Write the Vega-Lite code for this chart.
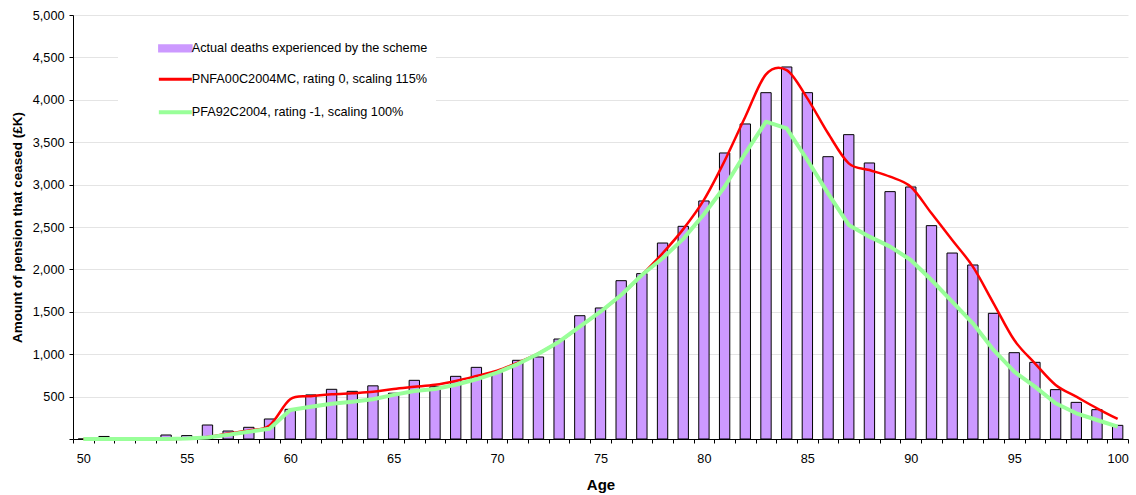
{
  "$schema": "https://vega.github.io/schema/vega-lite/v6.json",
  "width": 1055,
  "height": 424,
  "autosize": {"type": "none"},
  "padding": {"left": 73, "top": 15, "right": 8, "bottom": 56},
  "background": "white",
  "config": {
    "font": "Liberation Sans",
    "view": {"stroke": null},
    "axis": {"labelFont": "Liberation Sans", "titleFont": "Liberation Sans", "labelColor": "#000", "titleColor": "#000"}
  },
  "datasets": {
    "bars": [
      {"age": 50, "amount": 0, "series": "Actual deaths experienced by the scheme"},
      {"age": 51, "amount": 30, "series": "Actual deaths experienced by the scheme"},
      {"age": 52, "amount": 0, "series": "Actual deaths experienced by the scheme"},
      {"age": 53, "amount": 0, "series": "Actual deaths experienced by the scheme"},
      {"age": 54, "amount": 47, "series": "Actual deaths experienced by the scheme"},
      {"age": 55, "amount": 40, "series": "Actual deaths experienced by the scheme"},
      {"age": 56, "amount": 165, "series": "Actual deaths experienced by the scheme"},
      {"age": 57, "amount": 94, "series": "Actual deaths experienced by the scheme"},
      {"age": 58, "amount": 138, "series": "Actual deaths experienced by the scheme"},
      {"age": 59, "amount": 236, "series": "Actual deaths experienced by the scheme"},
      {"age": 60, "amount": 350, "series": "Actual deaths experienced by the scheme"},
      {"age": 61, "amount": 520, "series": "Actual deaths experienced by the scheme"},
      {"age": 62, "amount": 586, "series": "Actual deaths experienced by the scheme"},
      {"age": 63, "amount": 562, "series": "Actual deaths experienced by the scheme"},
      {"age": 64, "amount": 627, "series": "Actual deaths experienced by the scheme"},
      {"age": 65, "amount": 540, "series": "Actual deaths experienced by the scheme"},
      {"age": 66, "amount": 692, "series": "Actual deaths experienced by the scheme"},
      {"age": 67, "amount": 617, "series": "Actual deaths experienced by the scheme"},
      {"age": 68, "amount": 739, "series": "Actual deaths experienced by the scheme"},
      {"age": 69, "amount": 845, "series": "Actual deaths experienced by the scheme"},
      {"age": 70, "amount": 785, "series": "Actual deaths experienced by the scheme"},
      {"age": 71, "amount": 928, "series": "Actual deaths experienced by the scheme"},
      {"age": 72, "amount": 967, "series": "Actual deaths experienced by the scheme"},
      {"age": 73, "amount": 1179, "series": "Actual deaths experienced by the scheme"},
      {"age": 74, "amount": 1454, "series": "Actual deaths experienced by the scheme"},
      {"age": 75, "amount": 1545, "series": "Actual deaths experienced by the scheme"},
      {"age": 76, "amount": 1867, "series": "Actual deaths experienced by the scheme"},
      {"age": 77, "amount": 1950, "series": "Actual deaths experienced by the scheme"},
      {"age": 78, "amount": 2311, "series": "Actual deaths experienced by the scheme"},
      {"age": 79, "amount": 2508, "series": "Actual deaths experienced by the scheme"},
      {"age": 80, "amount": 2807, "series": "Actual deaths experienced by the scheme"},
      {"age": 81, "amount": 3373, "series": "Actual deaths experienced by the scheme"},
      {"age": 82, "amount": 3715, "series": "Actual deaths experienced by the scheme"},
      {"age": 83, "amount": 4084, "series": "Actual deaths experienced by the scheme"},
      {"age": 84, "amount": 4387, "series": "Actual deaths experienced by the scheme"},
      {"age": 85, "amount": 4084, "series": "Actual deaths experienced by the scheme"},
      {"age": 86, "amount": 3329, "series": "Actual deaths experienced by the scheme"},
      {"age": 87, "amount": 3589, "series": "Actual deaths experienced by the scheme"},
      {"age": 88, "amount": 3255, "series": "Actual deaths experienced by the scheme"},
      {"age": 89, "amount": 2917, "series": "Actual deaths experienced by the scheme"},
      {"age": 90, "amount": 2972, "series": "Actual deaths experienced by the scheme"},
      {"age": 91, "amount": 2516, "series": "Actual deaths experienced by the scheme"},
      {"age": 92, "amount": 2193, "series": "Actual deaths experienced by the scheme"},
      {"age": 93, "amount": 2052, "series": "Actual deaths experienced by the scheme"},
      {"age": 94, "amount": 1482, "series": "Actual deaths experienced by the scheme"},
      {"age": 95, "amount": 1018, "series": "Actual deaths experienced by the scheme"},
      {"age": 96, "amount": 904, "series": "Actual deaths experienced by the scheme"},
      {"age": 97, "amount": 582, "series": "Actual deaths experienced by the scheme"},
      {"age": 98, "amount": 432, "series": "Actual deaths experienced by the scheme"},
      {"age": 99, "amount": 346, "series": "Actual deaths experienced by the scheme"},
      {"age": 100, "amount": 161, "series": "Actual deaths experienced by the scheme"}
    ],
    "red": [
      {"age": 50, "amount": 0, "series": "PNFA00C2004MC, rating 0, scaling 115%"},
      {"age": 51, "amount": 0, "series": "PNFA00C2004MC, rating 0, scaling 115%"},
      {"age": 52, "amount": 0, "series": "PNFA00C2004MC, rating 0, scaling 115%"},
      {"age": 53, "amount": 0, "series": "PNFA00C2004MC, rating 0, scaling 115%"},
      {"age": 54, "amount": 0, "series": "PNFA00C2004MC, rating 0, scaling 115%"},
      {"age": 55, "amount": 5, "series": "PNFA00C2004MC, rating 0, scaling 115%"},
      {"age": 56, "amount": 25, "series": "PNFA00C2004MC, rating 0, scaling 115%"},
      {"age": 57, "amount": 65, "series": "PNFA00C2004MC, rating 0, scaling 115%"},
      {"age": 58, "amount": 100, "series": "PNFA00C2004MC, rating 0, scaling 115%"},
      {"age": 59, "amount": 160, "series": "PNFA00C2004MC, rating 0, scaling 115%"},
      {"age": 60, "amount": 468, "series": "PNFA00C2004MC, rating 0, scaling 115%"},
      {"age": 61, "amount": 505, "series": "PNFA00C2004MC, rating 0, scaling 115%"},
      {"age": 62, "amount": 527, "series": "PNFA00C2004MC, rating 0, scaling 115%"},
      {"age": 63, "amount": 540, "series": "PNFA00C2004MC, rating 0, scaling 115%"},
      {"age": 64, "amount": 556, "series": "PNFA00C2004MC, rating 0, scaling 115%"},
      {"age": 65, "amount": 590, "series": "PNFA00C2004MC, rating 0, scaling 115%"},
      {"age": 66, "amount": 615, "series": "PNFA00C2004MC, rating 0, scaling 115%"},
      {"age": 67, "amount": 640, "series": "PNFA00C2004MC, rating 0, scaling 115%"},
      {"age": 68, "amount": 685, "series": "PNFA00C2004MC, rating 0, scaling 115%"},
      {"age": 69, "amount": 743, "series": "PNFA00C2004MC, rating 0, scaling 115%"},
      {"age": 70, "amount": 806, "series": "PNFA00C2004MC, rating 0, scaling 115%"},
      {"age": 71, "amount": 900, "series": "PNFA00C2004MC, rating 0, scaling 115%"},
      {"age": 72, "amount": 1010, "series": "PNFA00C2004MC, rating 0, scaling 115%"},
      {"age": 73, "amount": 1148, "series": "PNFA00C2004MC, rating 0, scaling 115%"},
      {"age": 74, "amount": 1325, "series": "PNFA00C2004MC, rating 0, scaling 115%"},
      {"age": 75, "amount": 1501, "series": "PNFA00C2004MC, rating 0, scaling 115%"},
      {"age": 76, "amount": 1698, "series": "PNFA00C2004MC, rating 0, scaling 115%"},
      {"age": 77, "amount": 1934, "series": "PNFA00C2004MC, rating 0, scaling 115%"},
      {"age": 78, "amount": 2190, "series": "PNFA00C2004MC, rating 0, scaling 115%"},
      {"age": 79, "amount": 2475, "series": "PNFA00C2004MC, rating 0, scaling 115%"},
      {"age": 80, "amount": 2820, "series": "PNFA00C2004MC, rating 0, scaling 115%"},
      {"age": 81, "amount": 3280, "series": "PNFA00C2004MC, rating 0, scaling 115%"},
      {"age": 82, "amount": 3800, "series": "PNFA00C2004MC, rating 0, scaling 115%"},
      {"age": 83, "amount": 4300, "series": "PNFA00C2004MC, rating 0, scaling 115%"},
      {"age": 84, "amount": 4350, "series": "PNFA00C2004MC, rating 0, scaling 115%"},
      {"age": 85, "amount": 4017, "series": "PNFA00C2004MC, rating 0, scaling 115%"},
      {"age": 86, "amount": 3605, "series": "PNFA00C2004MC, rating 0, scaling 115%"},
      {"age": 87, "amount": 3251, "series": "PNFA00C2004MC, rating 0, scaling 115%"},
      {"age": 88, "amount": 3172, "series": "PNFA00C2004MC, rating 0, scaling 115%"},
      {"age": 89, "amount": 3093, "series": "PNFA00C2004MC, rating 0, scaling 115%"},
      {"age": 90, "amount": 2975, "series": "PNFA00C2004MC, rating 0, scaling 115%"},
      {"age": 91, "amount": 2661, "series": "PNFA00C2004MC, rating 0, scaling 115%"},
      {"age": 92, "amount": 2347, "series": "PNFA00C2004MC, rating 0, scaling 115%"},
      {"age": 93, "amount": 2032, "series": "PNFA00C2004MC, rating 0, scaling 115%"},
      {"age": 94, "amount": 1600, "series": "PNFA00C2004MC, rating 0, scaling 115%"},
      {"age": 95, "amount": 1167, "series": "PNFA00C2004MC, rating 0, scaling 115%"},
      {"age": 96, "amount": 892, "series": "PNFA00C2004MC, rating 0, scaling 115%"},
      {"age": 97, "amount": 637, "series": "PNFA00C2004MC, rating 0, scaling 115%"},
      {"age": 98, "amount": 499, "series": "PNFA00C2004MC, rating 0, scaling 115%"},
      {"age": 99, "amount": 362, "series": "PNFA00C2004MC, rating 0, scaling 115%"},
      {"age": 100, "amount": 236, "series": "PNFA00C2004MC, rating 0, scaling 115%"}
    ],
    "green": [
      {"age": 50, "amount": 0, "series": "PFA92C2004, rating -1, scaling 100%"},
      {"age": 51, "amount": 0, "series": "PFA92C2004, rating -1, scaling 100%"},
      {"age": 52, "amount": 0, "series": "PFA92C2004, rating -1, scaling 100%"},
      {"age": 53, "amount": 0, "series": "PFA92C2004, rating -1, scaling 100%"},
      {"age": 54, "amount": 0, "series": "PFA92C2004, rating -1, scaling 100%"},
      {"age": 55, "amount": 5, "series": "PFA92C2004, rating -1, scaling 100%"},
      {"age": 56, "amount": 18, "series": "PFA92C2004, rating -1, scaling 100%"},
      {"age": 57, "amount": 50, "series": "PFA92C2004, rating -1, scaling 100%"},
      {"age": 58, "amount": 85, "series": "PFA92C2004, rating -1, scaling 100%"},
      {"age": 59, "amount": 122, "series": "PFA92C2004, rating -1, scaling 100%"},
      {"age": 60, "amount": 342, "series": "PFA92C2004, rating -1, scaling 100%"},
      {"age": 61, "amount": 381, "series": "PFA92C2004, rating -1, scaling 100%"},
      {"age": 62, "amount": 415, "series": "PFA92C2004, rating -1, scaling 100%"},
      {"age": 63, "amount": 440, "series": "PFA92C2004, rating -1, scaling 100%"},
      {"age": 64, "amount": 468, "series": "PFA92C2004, rating -1, scaling 100%"},
      {"age": 65, "amount": 520, "series": "PFA92C2004, rating -1, scaling 100%"},
      {"age": 66, "amount": 565, "series": "PFA92C2004, rating -1, scaling 100%"},
      {"age": 67, "amount": 590, "series": "PFA92C2004, rating -1, scaling 100%"},
      {"age": 68, "amount": 640, "series": "PFA92C2004, rating -1, scaling 100%"},
      {"age": 69, "amount": 704, "series": "PFA92C2004, rating -1, scaling 100%"},
      {"age": 70, "amount": 782, "series": "PFA92C2004, rating -1, scaling 100%"},
      {"age": 71, "amount": 884, "series": "PFA92C2004, rating -1, scaling 100%"},
      {"age": 72, "amount": 1005, "series": "PFA92C2004, rating -1, scaling 100%"},
      {"age": 73, "amount": 1148, "series": "PFA92C2004, rating -1, scaling 100%"},
      {"age": 74, "amount": 1325, "series": "PFA92C2004, rating -1, scaling 100%"},
      {"age": 75, "amount": 1501, "series": "PFA92C2004, rating -1, scaling 100%"},
      {"age": 76, "amount": 1698, "series": "PFA92C2004, rating -1, scaling 100%"},
      {"age": 77, "amount": 1934, "series": "PFA92C2004, rating -1, scaling 100%"},
      {"age": 78, "amount": 2131, "series": "PFA92C2004, rating -1, scaling 100%"},
      {"age": 79, "amount": 2360, "series": "PFA92C2004, rating -1, scaling 100%"},
      {"age": 80, "amount": 2650, "series": "PFA92C2004, rating -1, scaling 100%"},
      {"age": 81, "amount": 2975, "series": "PFA92C2004, rating -1, scaling 100%"},
      {"age": 82, "amount": 3369, "series": "PFA92C2004, rating -1, scaling 100%"},
      {"age": 83, "amount": 3742, "series": "PFA92C2004, rating -1, scaling 100%"},
      {"age": 84, "amount": 3663, "series": "PFA92C2004, rating -1, scaling 100%"},
      {"age": 85, "amount": 3290, "series": "PFA92C2004, rating -1, scaling 100%"},
      {"age": 86, "amount": 2897, "series": "PFA92C2004, rating -1, scaling 100%"},
      {"age": 87, "amount": 2524, "series": "PFA92C2004, rating -1, scaling 100%"},
      {"age": 88, "amount": 2386, "series": "PFA92C2004, rating -1, scaling 100%"},
      {"age": 89, "amount": 2268, "series": "PFA92C2004, rating -1, scaling 100%"},
      {"age": 90, "amount": 2111, "series": "PFA92C2004, rating -1, scaling 100%"},
      {"age": 91, "amount": 1875, "series": "PFA92C2004, rating -1, scaling 100%"},
      {"age": 92, "amount": 1619, "series": "PFA92C2004, rating -1, scaling 100%"},
      {"age": 93, "amount": 1364, "series": "PFA92C2004, rating -1, scaling 100%"},
      {"age": 94, "amount": 1050, "series": "PFA92C2004, rating -1, scaling 100%"},
      {"age": 95, "amount": 794, "series": "PFA92C2004, rating -1, scaling 100%"},
      {"age": 96, "amount": 617, "series": "PFA92C2004, rating -1, scaling 100%"},
      {"age": 97, "amount": 421, "series": "PFA92C2004, rating -1, scaling 100%"},
      {"age": 98, "amount": 303, "series": "PFA92C2004, rating -1, scaling 100%"},
      {"age": 99, "amount": 224, "series": "PFA92C2004, rating -1, scaling 100%"},
      {"age": 100, "amount": 145, "series": "PFA92C2004, rating -1, scaling 100%"}
    ]
  },
  "encoding": {
    "x": {
      "field": "age",
      "type": "ordinal",
      "scale": {"paddingInner": 0, "paddingOuter": 0},
      "axis": {
        "title": "Age",
        "titleFontSize": 15,
        "titleFontWeight": "bold",
        "titlePadding": 13,
        "labelAngle": 0,
        "labelFontSize": 12.7,
        "labelPadding": 9,
        "labelOverlap": false,
        "labelExpr": "datum.value % 5 == 0 ? datum.label : ''",
        "tickBand": "extent",
        "tickSize": 4,
        "tickColor": "#000",
        "domainColor": "#000",
        "grid": false
      }
    },
    "y": {
      "field": "amount",
      "type": "quantitative",
      "scale": {"domain": [0, 5000], "nice": false},
      "axis": {
        "title": "Amount of pension that ceased (£K)",
        "titleFontSize": 13.5,
        "titleFontWeight": "bold",
        "titlePadding": 8,
        "values": [0, 500, 1000, 1500, 2000, 2500, 3000, 3500, 4000, 4500, 5000],
        "format": ",d",
        "labelExpr": "datum.value == 0 ? '' : datum.label",
        "labelFontSize": 12.7,
        "labelPadding": 5,
        "tickSize": 4,
        "tickColor": "#000",
        "domainColor": "#000",
        "grid": true,
        "gridColor": "#e4e4e4"
      }
    },
    "color": {
      "field": "series",
      "type": "nominal",
      "scale": {
        "domain": ["Actual deaths experienced by the scheme", "PNFA00C2004MC, rating 0, scaling 115%", "PFA92C2004, rating -1, scaling 100%"],
        "range": ["#CC99FF", "#FF0000", "#99FF99"]
      },
      "legend": {
        "title": null,
        "orient": "none",
        "legendX": 45,
        "legendY": 19,
        "padding": 8,
        "fillColor": "white",
        "symbolSize": 900,
        "symbolOffset": 43,
        "symbolStrokeColor": "#000",
        "symbolStrokeWidth": 1.5,
        "labelOffset": 10,
        "rowPadding": 17,
        "labelFontSize": 12.7,
        "labelFont": "Liberation Sans",
        "labelColor": "#000",
        "labelLimit": 400,
        "encode": {
          "symbols": {
            "update": {
              "shape": {"signal": "datum.value === 'Actual deaths experienced by the scheme' ? 'M-1.1,-0.22H1.1V0.22H-1.1Z' : 'M-1.1,0H1.1'"},
              "fill": {"signal": "datum.value === 'Actual deaths experienced by the scheme' ? '#CC99FF' : 'transparent'"},
              "stroke": {"signal": "datum.value === 'Actual deaths experienced by the scheme' ? '#000' : (datum.value === 'PNFA00C2004MC, rating 0, scaling 115%' ? '#FF0000' : '#99FF99')"},
              "strokeWidth": {"signal": "datum.value === 'Actual deaths experienced by the scheme' ? 1.5 : (datum.value === 'PNFA00C2004MC, rating 0, scaling 115%' ? 3 : 4)"},
              "opacity": {"value": 1},
              "strokeOpacity": {"value": 1}
            }
          }
        }
      }
    }
  },
  "layer": [
    {
      "data": {"name": "bars"},
      "mark": {"type": "bar", "width": {"band": 0.5}, "stroke": "#000", "strokeWidth": 1, "opacity": 1}
    },
    {
      "data": {"name": "red"},
      "mark": {"type": "line", "interpolate": "cardinal", "strokeWidth": 2.5}
    },
    {
      "data": {"name": "green"},
      "mark": {"type": "line", "interpolate": "linear", "strokeWidth": 4, "strokeJoin": "round"}
    }
  ]
}
